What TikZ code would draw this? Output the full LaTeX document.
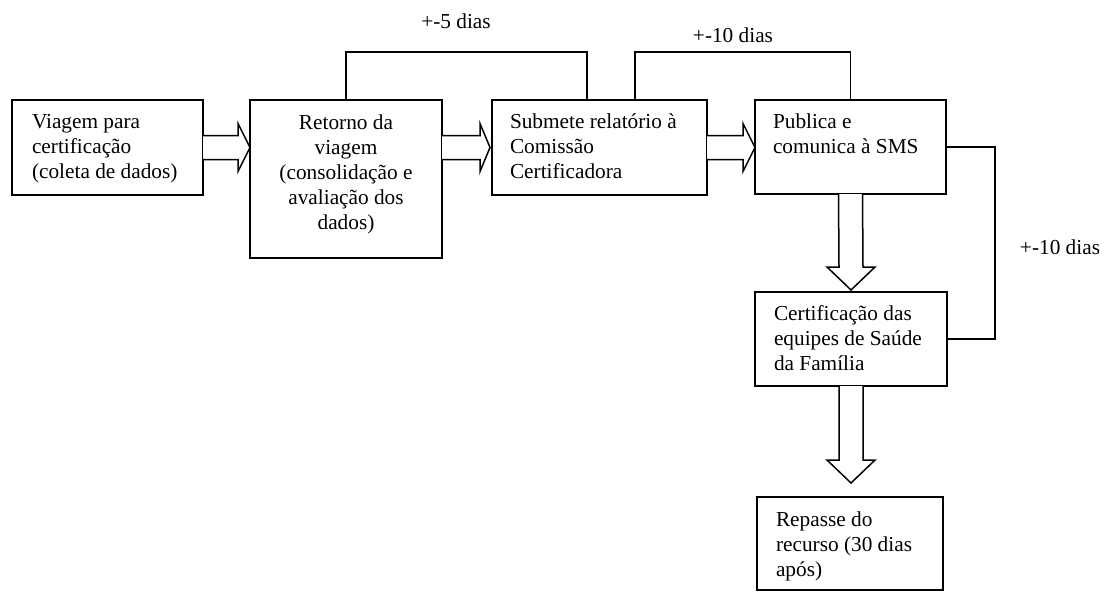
\documentclass[tikz,border=0pt]{standalone}
\usepackage{fontspec}
\setmainfont{Liberation Serif}
\usetikzlibrary{calc}
\begin{document}
\begin{tikzpicture}[x=1pt,y=-1pt,
  box/.style={draw,line width=1.6pt,inner sep=0,outer sep=0},
  txt/.style={inner sep=0,outer sep=0,font=\fontsize{21.3}{25}\selectfont},
  conn/.style={line width=1.4pt},
  barrow/.style={draw,line width=1.5pt,fill=white,line join=miter},
  lbl/.style={inner sep=0,font=\fontsize{21.3}{25}\selectfont}]
\useasboundingbox (0,0) rectangle (1105,592);
% boxes
\node[box,minimum width=191pt,minimum height=95pt] (b1) at (107.5,147.5) {};
\node[box,minimum width=192pt,minimum height=158pt] (b2) at (346,179) {};
\node[box,minimum width=215pt,minimum height=95pt] (b3) at (599.5,147.5) {};
\node[box,minimum width=191pt,minimum height=94pt] (b4) at (850.5,147) {};
\node[box,minimum width=192pt,minimum height=94pt] (b5) at (851,339) {};
\node[box,minimum width=186pt,minimum height=93pt] (b6) at (850,543.5) {};
% texts
\node[txt,anchor=north west,align=left] (t1) at (32,110.5) {\strut Viagem para\\certificação\\(coleta de dados)};
\node[txt,anchor=north,align=center] (t2) at (346,111.5) {\strut Retorno da\\viagem\\(consolidação e\\avaliação dos\\dados)};
\node[txt,anchor=north west,align=left] (t3) at (510,110.5) {\strut Submete relatório à\\Comissão\\Certificadora};
\node[txt,anchor=north west,align=left] (t4) at (773,110.5) {\strut Publica e\\comunica à SMS};
\node[txt,anchor=north west,align=left] (t5) at (774,302.5) {\strut Certificação das\\equipes de Saúde\\da Família};
\node[txt,anchor=north west,align=left] (t6) at (776,508.5) {\strut Repasse do\\recurso (30 dias\\após)};
% horizontal block arrows
\coordinate (h12) at (b2.west |- b1.east);
\coordinate (h23) at ($(b3.west |- b1.east)+(-2,0)$);
\coordinate (h34) at (b4.west |- b3.east);
\draw[barrow] ($(b1.east)+(0,-12)$) -- ($(h12)+(-12,-12)$) -- ($(h12)+(-12,-24)$) -- (h12)
  -- ($(h12)+(-12,24)$) -- ($(h12)+(-12,12)$) -- ($(b1.east)+(0,12)$);
\draw[barrow] ($(b2.east |- b1.east)+(0,-12)$) -- ($(h23)+(-10,-12)$) -- ($(h23)+(-10,-24)$) -- (h23)
  -- ($(h23)+(-10,24)$) -- ($(h23)+(-10,12)$) -- ($(b2.east |- b1.east)+(0,12)$);
\draw[barrow] ($(b3.east)+(0,-12)$) -- ($(h34)+(-12,-12)$) -- ($(h34)+(-12,-24)$) -- (h34)
  -- ($(h34)+(-12,24)$) -- ($(h34)+(-12,12)$) -- ($(b3.east)+(0,12)$);
% vertical block arrows
\coordinate (v45) at ($(b5.north)+(0,-2)$);
\coordinate (v56) at ($(b6.north)+(1,-14)$);
\draw[barrow] ($(b4.south)+(-12,0)$) -- ($(v45)+(-12,-23)$) -- ($(v45)+(-24,-23)$) -- (v45)
  -- ($(v45)+(24,-23)$) -- ($(v45)+(12,-23)$) -- ($(b4.south)+(12,0)$);
\draw[barrow] ($(b5.south)+(-12,0)$) -- ($(v56)+(-12,-23)$) -- ($(v56)+(-24,-23)$) -- (v56)
  -- ($(v56)+(24,-23)$) -- ($(v56)+(12,-23)$) -- ($(b5.south)+(12,0)$);
% connectors
\coordinate (c3a) at ($(b3.north west)+(95,0)$);
\coordinate (c3b) at ($(b3.north west)+(143,0)$);
\draw[conn] (b2.north) -- ++(0,-48) -| (c3a);
\draw[conn] (c3b) -- ++(0,-48) -| (b4.north);
\draw[conn] (b4.east) -- ++(49,0) |- (b5.east);
% labels
\node[lbl] (l1) at (456,21) {+-5 dias};
\node[lbl] (l2) at (733,35) {+-10 dias};
\node[lbl] (l3) at (1060,247) {+-10 dias};
\end{tikzpicture}
\end{document}
